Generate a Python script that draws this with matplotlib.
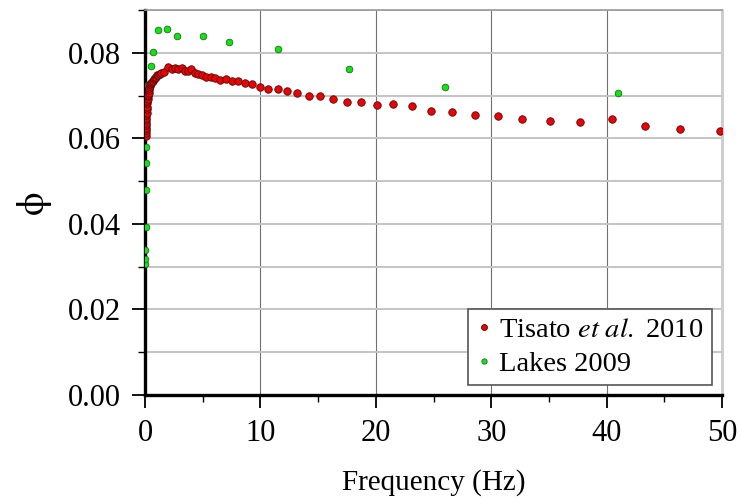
import numpy as np
import matplotlib
matplotlib.use("Agg")
import matplotlib.pyplot as plt
import matplotlib.ticker as mticker

plt.rcParams["font.family"] = ["Liberation Serif", "DejaVu Serif"]
plt.rcParams["mathtext.fontset"] = "stix"

# Tisato et al. 2010
tisato_f = [0.06, 0.07, 0.08, 0.08, 0.09, 0.10, 0.11, 0.11, 0.12, 0.13, 0.15, 0.16, 0.17,
            0.20, 0.23, 0.26, 0.29, 0.32, 0.35, 0.38, 0.41, 0.47, 0.52, 0.58, 0.66, 0.75,
            0.84, 0.93, 1.04, 1.15, 1.27, 1.39, 1.61, 1.96, 2.31, 2.60, 2.88, 3.18, 3.44,
            3.73, 4.01, 4.34, 4.62, 4.91, 5.32, 5.69, 6.10, 6.53, 7.00, 7.55, 8.06, 8.70,
            9.31, 9.98, 10.7, 11.5, 12.3, 13.2, 14.2, 15.2, 16.3, 17.5, 18.7, 20.1, 21.5,
            23.1, 24.8, 26.6, 28.6, 30.6, 32.7, 35.1, 37.7, 40.5, 43.3, 46.4, 49.8]
tisato_phi = [0.0605, 0.0612, 0.0619, 0.0625, 0.0630, 0.0636, 0.0642, 0.0648, 0.0654, 0.0660,
              0.0668, 0.0674, 0.0682, 0.0688, 0.0693, 0.0698, 0.0702, 0.0707, 0.0712, 0.0717,
              0.0723, 0.0727, 0.0729, 0.0732, 0.0735, 0.0738, 0.0741, 0.0744, 0.0747, 0.0749,
              0.0751, 0.0753, 0.0755, 0.0766, 0.0763, 0.0765, 0.0763, 0.0765, 0.0757, 0.0758,
              0.0761, 0.0753, 0.0750, 0.0747, 0.0743, 0.0744, 0.0740, 0.0736, 0.0738, 0.0733,
              0.0733, 0.0729, 0.0726, 0.0721, 0.0716, 0.0715, 0.0710, 0.0705, 0.0698, 0.0698,
              0.0691, 0.0684, 0.0684, 0.0677, 0.0681, 0.0676, 0.0663, 0.0662, 0.0655, 0.0653,
              0.0646, 0.0640, 0.0637, 0.0644, 0.0629, 0.0621, 0.0616]

# Lakes 2009
lakes_f = [0.02, 0.03, 0.04, 0.05, 0.06, 0.08, 0.09, 0.26, 0.52, 0.72, 1.10, 1.88, 2.8,
           5.03, 7.26, 11.5, 17.7, 26.0, 41.0]
lakes_phi = [0.0307, 0.0319, 0.0340, 0.0392, 0.0480, 0.0543, 0.0580, 0.0724, 0.0770, 0.0802,
             0.0853, 0.0855, 0.0839, 0.0840, 0.0825, 0.0809, 0.0762, 0.0719, 0.0705]

fig = plt.figure(figsize=(7.41, 4.98), dpi=100)
ax = fig.add_axes([0.1957, 0.2068, 0.7787, 0.7732])

h_l, = ax.plot(lakes_f, lakes_phi, 'o', ms=4.8, mfc='#00ee00', mec='#3a5a3a', mew=0.6,
               ls='none', label='Lakes 2009', zorder=3)
h_t, = ax.plot(tisato_f, tisato_phi, 'o', ms=5.4, mfc='#ee0000', mec='#4a1010', mew=0.6,
               ls='none', label=r'Tisato $\it{et\ al.}$ 2010', zorder=4)

ax.set_xlim(0, 50)
ax.set_ylim(0, 0.09)
ax.xaxis.set_major_locator(mticker.MultipleLocator(10))
ax.xaxis.set_minor_locator(mticker.MultipleLocator(5))
ax.yaxis.set_major_locator(mticker.FixedLocator([0, 0.02, 0.04, 0.06, 0.08]))
ax.yaxis.set_minor_locator(mticker.MultipleLocator(0.01))
ax.yaxis.set_major_formatter(mticker.FormatStrFormatter('%.2f'))

ax.grid(axis='x', which='major', color='#707070', lw=0.8, zorder=0)
ax.grid(axis='y', which='both', color='#c4c4c4', lw=1.4, zorder=0)
ax.set_axisbelow(True)

ax.tick_params(axis='both', which='major', direction='out', length=9.5, width=1.3,
               labelsize=22, colors='black', pad=8)
ax.tick_params(axis='both', which='minor', direction='out', length=5, width=1.0)

for s in ('left', 'bottom'):
    ax.spines[s].set_linewidth(2.4)
    ax.spines[s].set_color('black')
ax.spines['top'].set_color('#9a9a9a')
ax.spines['top'].set_linewidth(1.2)
ax.spines['right'].set_color('#cccccc')
ax.spines['right'].set_linewidth(2.0)

ax.set_xlabel('Frequency (Hz)', fontsize=21, labelpad=15)
ax.set_ylabel('\u03d5', fontsize=27, labelpad=12, rotation=90, family='STIXGeneral')

leg = ax.legend(handles=[h_t, h_l], loc='lower right', fontsize=20.5, frameon=True,
                fancybox=False, edgecolor='#555555', framealpha=1, handlelength=0.5,
                handletextpad=0.3, borderpad=0.3, labelspacing=0.25,
                borderaxespad=0.35, markerscale=0.8)
leg.get_frame().set_linewidth(1.2)

fig.savefig('out.png', dpi=100)
